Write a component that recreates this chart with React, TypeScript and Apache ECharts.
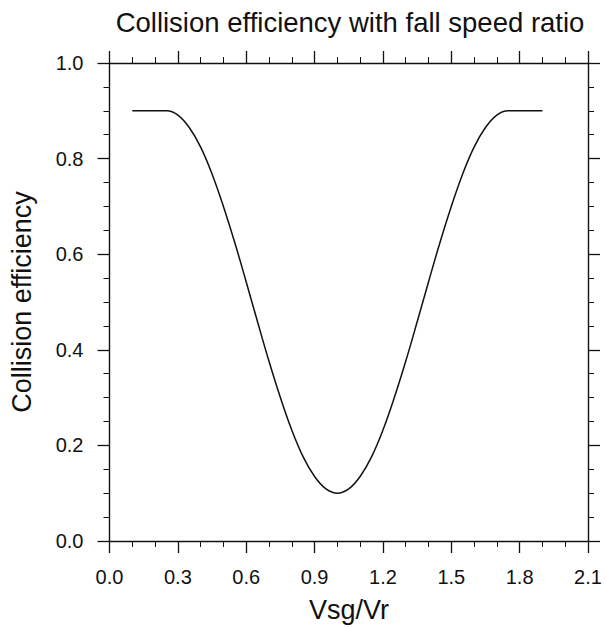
import React, { useEffect, useRef } from "react";
import * as echarts from "echarts";

const titleText = "Collision efficiency with fall speed ratio";
const xName = "Vsg/Vr";
const yName = "Collision efficiency";

const ratio = [
  0.1, 0.15, 0.2, 0.25, 0.3, 0.35, 0.4, 0.45, 0.5, 0.55, 0.6, 0.65, 0.7, 0.75,
  0.8, 0.85, 0.9, 0.95, 1.0, 1.05, 1.1, 1.15, 1.2, 1.25, 1.3, 1.35, 1.4, 1.45,
  1.5, 1.55, 1.6, 1.65, 1.7, 1.75, 1.8, 1.85, 1.9,
];
const efficiency = [
  0.9, 0.9, 0.9, 0.9, 0.891, 0.865, 0.824, 0.768, 0.7, 0.624, 0.542, 0.458,
  0.376, 0.3, 0.232, 0.176, 0.135, 0.109, 0.1, 0.109, 0.135, 0.176, 0.232, 0.3,
  0.376, 0.458, 0.542, 0.624, 0.7, 0.768, 0.824, 0.865, 0.891, 0.9, 0.9, 0.9,
  0.9,
];

const GRID = { left: 109.5, right: 18, top: 63, bottom: 86 };
const FONT = "Liberation Sans, Arial, Helvetica, sans-serif";
const INK = "#111";

export default function App() {
  const ref = useRef<HTMLDivElement>(null);
  useEffect(() => {
    if (!ref.current) return;
    const chart = echarts.init(ref.current, undefined, { renderer: "svg" });
    const axisCommon = (labels: boolean, splitNum: number, fmt: (v: number) => string) => ({
      type: "value" as const,
      axisLine: { show: true, onZero: false, lineStyle: { color: INK, width: 1.4 } },
      axisTick: { show: true, inside: false, length: 12, lineStyle: { color: INK, width: 1.3 } },
      minorTick: { show: true, splitNumber: splitNum, length: 6, lineStyle: { color: INK, width: 1 } },
      splitLine: { show: false },
      minorSplitLine: { show: false },
      axisLabel: {
        show: labels,
        color: INK,
        fontSize: 20,
        fontFamily: FONT,
        margin: 26,
        formatter: fmt,
      },
    });
    const fx = (v: number) => v.toFixed(1);
    chart.setOption({
      animation: false,
      backgroundColor: "#fff",
      grid: { ...GRID, containLabel: false },
      xAxis: [
        { ...axisCommon(true, 3, fx), position: "bottom", min: 0, max: 2.1, interval: 0.3 },
        { ...axisCommon(false, 3, fx), position: "top", min: 0, max: 2.1, interval: 0.3 },
      ],
      yAxis: [
        { ...axisCommon(true, 4, fx), position: "left", min: 0, max: 1, interval: 0.2 },
        { ...axisCommon(false, 4, fx), position: "right", min: 0, max: 1, interval: 0.2 },
      ],
      series: [
        {
          type: "line",
          data: ratio.map((x, i) => [x, efficiency[i]]),
          showSymbol: false,
          smooth: 0.4,
          lineStyle: { color: INK, width: 1.5 },
          silent: true,
        },
      ],
      graphic: [
        {
          type: "text",
          x: 350,
          y: 22,
          style: {
            text: titleText,
            fill: INK,
            fontSize: 27.5,
            fontFamily: FONT,
            textAlign: "center",
            textVerticalAlign: "middle",
            align: "center",
            verticalAlign: "middle",
          },
        },
        {
          type: "text",
          x: 349,
          y: 610,
          style: {
            text: xName,
            fill: INK,
            fontSize: 27,
            fontFamily: FONT,
            textAlign: "center",
            textVerticalAlign: "middle",
            align: "center",
            verticalAlign: "middle",
          },
        },
        {
          type: "text",
          x: 22,
          y: 302,
          rotation: Math.PI / 2,
          style: {
            text: yName,
            fill: INK,
            fontSize: 27,
            fontFamily: FONT,
            textAlign: "center",
            textVerticalAlign: "middle",
            align: "center",
            verticalAlign: "middle",
          },
        },
      ],
    });
    return () => chart.dispose();
  }, []);
  return (
    <div
      ref={ref}
      style={{ position: "fixed", left: 0, top: 0, width: 606, height: 627, background: "#fff" }}
    />
  );
}
